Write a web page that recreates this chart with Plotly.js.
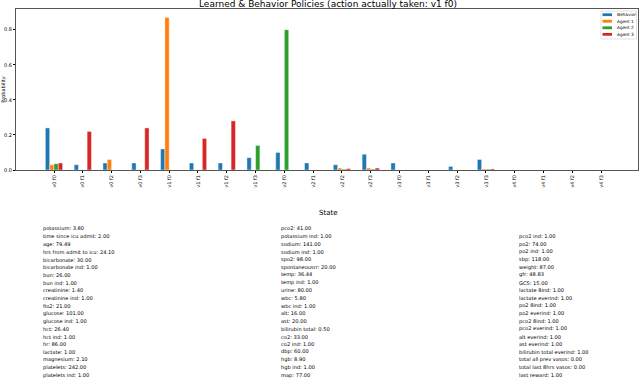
<!DOCTYPE html>
<html>
<head>
<meta charset="utf-8">
<script src="https://cdn.plot.ly/plotly-3.0.1.min.js"></script>
<style>
  html, body { margin: 0; padding: 0; background: #fff; }
  #plot { width: 640px; height: 378px; }
</style>
</head>
<body>
<div id="plot"></div>
<script>
var actions = ["v0 f0", "v0 f1", "v0 f2", "v0 f3", "v1 f0", "v1 f1", "v1 f2", "v1 f3",
               "v2 f0", "v2 f1", "v2 f2", "v2 f3", "v3 f0", "v3 f1", "v3 f2", "v3 f3",
               "v4 f0", "v4 f1", "v4 f2", "v4 f3"];

var seriesNames = ["Behavior", "Agent 1", "Agent 2", "Agent 3"];
var behavior = [0.24, 0.03, 0.04, 0.04, 0.12, 0.04, 0.04, 0.07, 0.10, 0.04, 0.03, 0.09, 0.04, 0, 0.02, 0.06, 0, 0, 0, 0];
var agent1   = [0.03, 0, 0.06, 0, 0.87, 0, 0, 0, 0, 0, 0.011, 0.011, 0, 0, 0, 0.006, 0, 0, 0, 0];
var agent2   = [0.036, 0, 0, 0, 0, 0, 0, 0.14, 0.80, 0, 0.005, 0.005, 0, 0, 0, 0.005, 0, 0, 0, 0];
var agent3   = [0.04, 0.22, 0, 0.24, 0, 0.18, 0.28, 0, 0, 0, 0.008, 0.011, 0, 0, 0, 0.006, 0, 0, 0, 0];

var stateCol1 = ["potassium: 3.80", "time since icu admit: 2.00", "age: 79.49", "hrs from admit to icu: 24.10",
  "bicarbonate: 30.00", "bicarbonate ind: 1.00", "bun: 26.00", "bun ind: 1.00", "creatinine: 1.40",
  "creatinine ind: 1.00", "fio2: 21.00", "glucose: 101.00", "glucose ind: 1.00", "hct: 26.40",
  "hct ind: 1.00", "hr: 86.00", "lactate: 1.00", "magnesium: 2.10", "platelets: 242.00", "platelets ind: 1.00"];
var stateCol2 = ["pco2: 41.00", "potassium ind: 1.00", "sodium: 141.00", "sodium ind: 1.00", "spo2: 98.00",
  "spontaneousrr: 20.00", "temp: 36.44", "temp ind: 1.00", "urine: 80.00", "wbc: 5.80", "wbc ind: 1.00",
  "alt: 16.00", "ast: 20.00", "bilirubin total: 0.50", "co2: 33.00", "co2 ind: 1.00", "dbp: 60.00",
  "hgb: 8.90", "hgb ind: 1.00", "map: 77.00"];
var stateCol3 = ["pco2 ind: 1.00", "po2: 74.00", "po2 ind: 1.00", "sbp: 118.00", "weight: 87.00", "gfr: 48.83",
  "GCS: 15.00", "lactate 8ind: 1.00", "lactate everind: 1.00", "po2 8ind: 1.00", "po2 everind: 1.00",
  "pco2 8ind: 1.00", "pco2 everind: 1.00", "alt everind: 1.00", "ast everind: 1.00",
  "bilirubin total everind: 1.00", "total all prev vasos: 0.00", "total last 8hrs vasos: 0.00", "last reward: 1.00"];

var colors = ["#1f77b4", "#ff7f0e", "#2ca02c", "#d62728"];

// plot area in pixels
var L = 16, R = 638, T = 9, B = 170;
function px(x) { return (x - L) / (R - L); }
function py(y) { return (B - y) / (B - T); }

var values = [behavior, agent1, agent2, agent3];
var data = values.map(function (y, i) {
    return {
        x: actions, y: y, name: seriesNames[i], type: "bar",
        marker: {color: colors[i], line: {color: "rgba(255,255,255,0.7)", width: 0.6}}
    };
});

var annotations = [], shapes = [];

// state text block
annotations.push({text: "State", xref: "paper", yref: "paper", x: px(328), y: py(213),
    xanchor: "center", yanchor: "middle", showarrow: false,
    font: {family: "DejaVu Sans", size: 7, color: "#000"}});

function addColumn(lines, x0, y0) {
    lines.forEach(function (s, i) {
        annotations.push({text: s, xref: "paper", yref: "paper", x: px(x0), y: py(y0 + i * 7.7),
            xanchor: "left", yanchor: "middle", align: "left", showarrow: false,
            font: {family: "DejaVu Sans", size: 5.1, color: "#000"}});
    });
}
addColumn(stateCol1, 41, 228.7);
addColumn(stateCol2, 279, 228.7);
addColumn(stateCol3, 517, 236.4);

// small legend box (matplotlib-style)
shapes.push({type: "rect", xref: "paper", yref: "paper", x0: px(601), x1: px(636.5), y0: py(39), y1: py(11),
    line: {color: "#ccc", width: 0.6}, fillcolor: "rgba(255,255,255,0.8)", layer: "above"});
seriesNames.forEach(function (n, i) {
    var yc = 14.7 + i * 6.55;
    shapes.push({type: "rect", xref: "paper", yref: "paper", x0: px(602.5), x1: px(612), y0: py(yc + 1.4), y1: py(yc - 1.4),
        line: {width: 0}, fillcolor: colors[i], layer: "above"});
    annotations.push({text: n, xref: "paper", yref: "paper", x: px(614.5), y: py(yc),
        xanchor: "left", yanchor: "middle", showarrow: false,
        font: {family: "DejaVu Sans", size: 4.3, color: "#000"}});
});

var layout = {
    width: 640, height: 378,
    margin: {l: L, r: 640 - R, t: T, b: 378 - B, pad: 0},
    paper_bgcolor: "#fff", plot_bgcolor: "#fff",
    font: {family: "DejaVu Sans", color: "#000"},
    showlegend: false,
    barmode: "group", bargap: 0.4, bargroupgap: 0,
    title: {
        text: "Learned & Behavior Policies (action actually taken: v1 f0)",
        font: {family: "DejaVu Sans", size: 9, color: "#000"},
        x: px(328), xref: "paper", xanchor: "center",
        y: 1 - 4 / 378, yref: "container", yanchor: "middle"
    },
    xaxis: {
        type: "category", range: [-1.32, 20.28],
        tickangle: -90, tickfont: {size: 5}, ticks: "outside", ticklen: 2, tickcolor: "#000",
        showline: true, mirror: true, linecolor: "#555", linewidth: 1,
        showgrid: false, zeroline: false, automargin: false
    },
    yaxis: {
        range: [0, 0.918], tickvals: [0, 0.2, 0.4, 0.6, 0.8], tickformat: ".1f",
        tickfont: {size: 5}, ticks: "outside", ticklen: 2, tickcolor: "#000",
        showline: true, mirror: true, linecolor: "#555", linewidth: 1,
        showgrid: false, zeroline: false, automargin: false,
        title: {text: "Probability", font: {size: 5}, standoff: 2}
    },
    shapes: shapes,
    annotations: annotations
};

Plotly.newPlot("plot", data, layout, {displayModeBar: false, staticPlot: true});
</script>
</body>
</html>
